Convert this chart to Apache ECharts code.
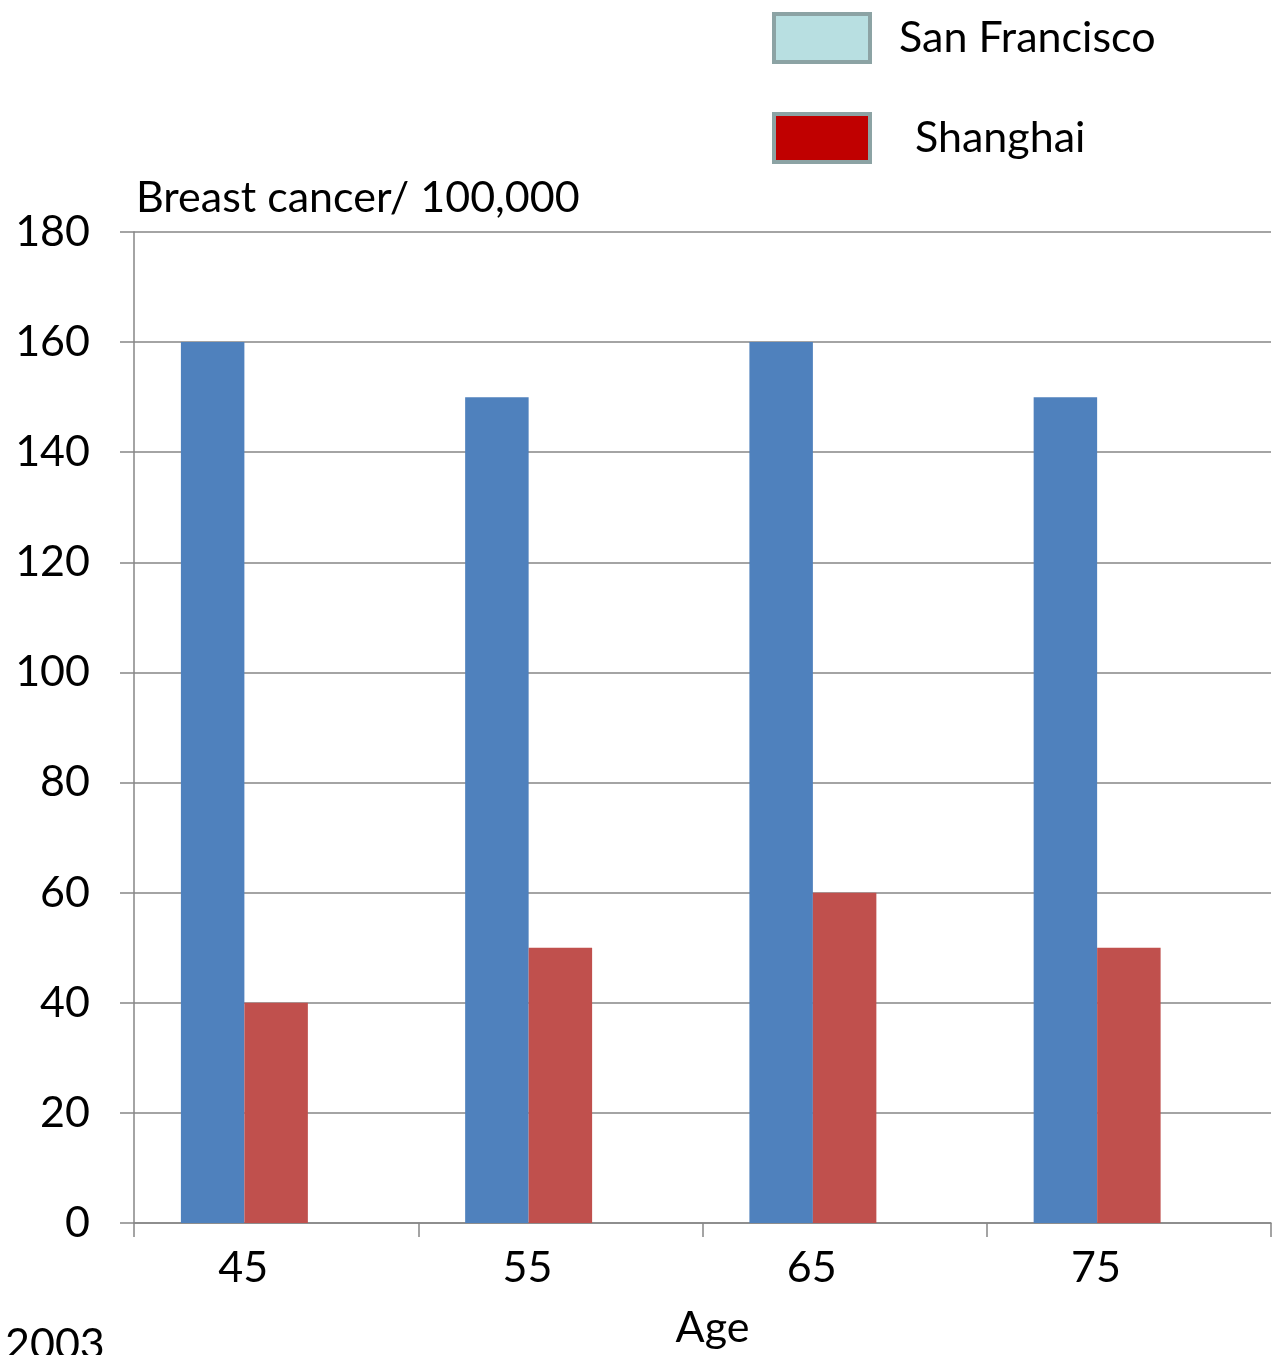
<!DOCTYPE html>
<html>
<head>
<meta charset="utf-8">
<script src="https://cdn.jsdelivr.net/npm/echarts@6/dist/echarts.min.js"></script>
<style>
  html, body { margin: 0; padding: 0; background: #fff; }
  #chart { width: 1287px; height: 1355px; }
</style>
</head>
<body>
<div id="chart"></div>
<script>
// Age groups on the x axis
const ages = ['45', '55', '65', '75'];
// Breast cancer incidence per 100,000 women
const sanFrancisco = [160, 150, 160, 150];
const shanghai = [40, 50, 60, 50];
// Value axis range
const yMin = 0, yMax = 180, yStep = 20;

const FONT = 'Lato';
const FS = 43;
const chart = echarts.init(document.getElementById('chart'));

chart.setOption({
  backgroundColor: '#ffffff',
  textStyle: { fontFamily: FONT },
  animation: false,
  grid: { left: 134, right: 16, top: 232, bottom: 131, containLabel: false },
  legend: {
    orient: 'vertical',
    left: 772,
    top: 12,
    padding: 0,
    itemWidth: 96,
    itemHeight: 48,
    itemGap: 48,
    selectedMode: false,
    icon: 'rect',
    textStyle: { fontFamily: FONT, fontSize: FS, color: '#000', padding: [0, 0, 0, 24], height: 48, lineHeight: 48 },
    data: [
      { name: 'San Francisco', itemStyle: { color: '#B8DFE1', borderColor: '#8CA3A4', borderWidth: 4 } },
      { name: 'Shanghai', itemStyle: { color: '#C00000', borderColor: '#8CA3A4', borderWidth: 4 },
        textStyle: { padding: [0, 0, 0, 40] } }
    ]
  },
  xAxis: {
    type: 'category',
    data: ages,
    name: 'Age',
    nameLocation: 'middle',
    nameGap: 84,
    nameTextStyle: { fontFamily: FONT, fontSize: FS, color: '#000', padding: [0, 0, 0, 20] },
    axisLine: { lineStyle: { color: '#868686', width: 1.5 } },
    axisTick: { show: true, length: 14, lineStyle: { color: '#868686', width: 1.5 } },
    axisLabel: { fontFamily: FONT, fontSize: FS, color: '#000', margin: 24, padding: [0, 66, 0, 0] },
    splitLine: { show: false }
  },
  yAxis: {
    type: 'value',
    min: yMin,
    max: yMax,
    interval: yStep,
    name: 'Breast cancer/ 100,000',
    nameLocation: 'end',
    nameGap: 12,
    nameTextStyle: { fontFamily: FONT, fontSize: FS, color: '#000', align: 'left', padding: [0, 0, 0, 2] },
    axisLine: { show: true, lineStyle: { color: '#868686', width: 1.5 } },
    axisTick: { show: true, length: 14, lineStyle: { color: '#868686', width: 1.5 } },
    axisLabel: { fontFamily: FONT, fontSize: FS, color: '#000', margin: 44 },
    splitLine: { show: true, lineStyle: { color: '#868686', width: 1.5 } }
  },
  series: [
    {
      name: 'San Francisco',
      type: 'bar',
      data: sanFrancisco,
      barGap: '0%',
      barCategoryGap: '33%',
      itemStyle: { color: '#4F81BD' }
    },
    {
      name: 'Shanghai',
      type: 'bar',
      data: shanghai,
      itemStyle: { color: '#C0504D' }
    },
    {
      // empty slot reserving space to the right of each pair
      name: '',
      type: 'bar',
      data: [],
      itemStyle: { color: 'transparent' }
    }
  ],
  graphic: [
    {
      type: 'text',
      left: 5,
      top: 1324,
      style: { text: '2003', fontFamily: FONT, fontSize: FS, fill: '#000' }
    }
  ]
});
</script>
</body>
</html>
